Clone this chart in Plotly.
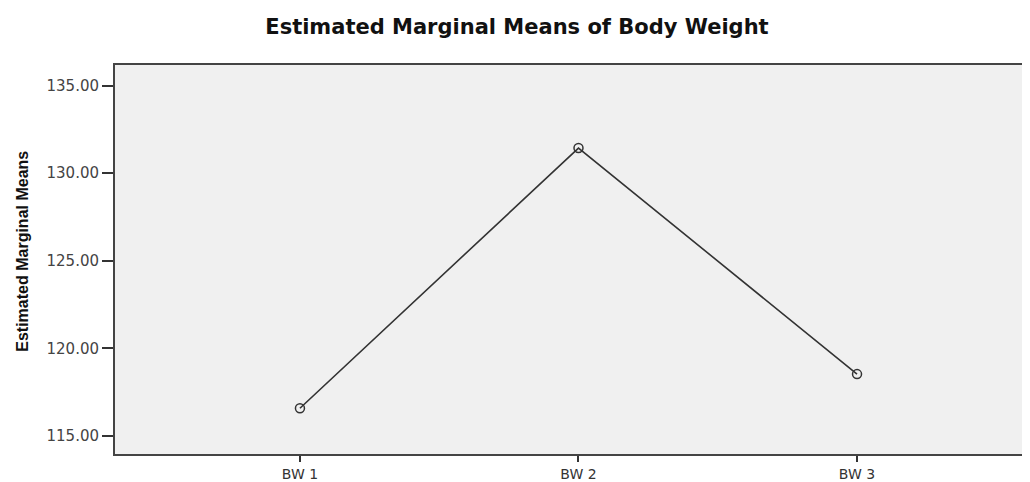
import plotly.graph_objects as go

categories = ["BW 1", "BW 2", "BW 3"]
means = [116.58, 131.43, 118.53]
y_ticks = [115, 120, 125, 130, 135]
y_tick_labels = ["115.00", "120.00", "125.00", "130.00", "135.00"]

fig = go.Figure()
fig.add_trace(go.Scatter(
    x=list(range(len(categories))),
    y=means,
    mode="lines+markers",
    line=dict(color="#333333", width=1.6),
    marker=dict(symbol="circle-open", size=9, color="#333333", line=dict(width=1.5)),
    showlegend=False,
))

fig.update_layout(
    width=1022, height=474,
    margin=dict(l=107, r=0, t=57, b=25),
    paper_bgcolor="white",
    plot_bgcolor="#f0f0f0",
    title=dict(text="<b>Estimated Marginal Means of Body Weight</b>",
               x=0.498, xanchor="center", y=0.961, yanchor="middle",
               font=dict(family="DejaVu Sans", size=21, color="#111111")),
    font=dict(family="DejaVu Sans"),
    annotations=[dict(
        text="<b>Estimated Marginal Means</b>",
        xref="paper", yref="paper", x=0, y=0.52,
        xanchor="center", yanchor="middle", xshift=-92,
        textangle=-90, showarrow=False,
        font=dict(family="Liberation Sans, Arial", size=16, color="#111111"),
    )],
)

fig.update_xaxes(
    range=[-0.664, 2.621],
    tickmode="array",
    tickvals=list(range(len(categories))),
    ticktext=categories,
    ticks="outside", ticklen=6, tickwidth=1.5, tickcolor="#333333",
    tickfont=dict(family="DejaVu Sans", size=14, color="#333333"),
    showline=True, linecolor="#444444", linewidth=2, mirror=True,
    showgrid=False, zeroline=False,
)

fig.update_yaxes(
    range=[113.97, 136.17],
    tickmode="array",
    tickvals=y_ticks,
    ticktext=y_tick_labels,
    ticks="outside", ticklen=11, tickwidth=1.5, tickcolor="#333333",
    tickfont=dict(family="DejaVu Sans", size=15, color="#444444"),
    showline=True, linecolor="#444444", linewidth=2,
    showgrid=False, zeroline=False,
)

fig.write_html("out.html")
